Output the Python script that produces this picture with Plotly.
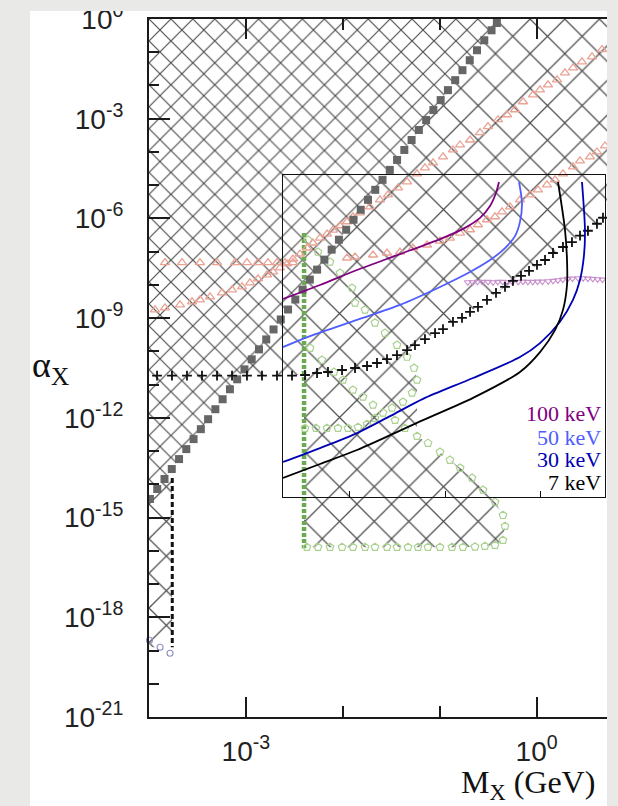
import numpy as np
import plotly.graph_objects as go

# ---------------- axis extents (log10 units) ----------------
X_RANGE = [-4.0, 0.7265]          # log10(M_X / GeV)
Y_RANGE = [-21.0, 0.0]            # log10(alpha_X)
INSET_X_RANGE = [-2.6875, 0.6667]
INSET_Y_RANGE = [-14.384, -4.689]

y_major_exp = [0, -3, -6, -9, -12, -15, -18, -21]
y_minor_exp = [-1, -2, -4, -5, -7, -8, -10, -11, -13, -14, -16, -17, -19, -20]
x_major_exp = [-3, 0]
x_minor_exp = [-2, -1]
inset_x_ticks = [-2, -1, 0]

# ---------------- constraint curves (log10 M, log10 alpha) ----------------
# filled squares
sq_logm = [-3.99, -3.915, -3.84, -3.765, -3.69, -3.615, -3.54, -3.465, -3.39, -3.315,
           -3.24, -3.165, -3.09, -3.015, -2.94, -2.865, -2.79, -2.715, -2.64, -2.565,
           -2.49, -2.415, -2.34, -2.265, -2.19, -2.115, -2.04, -1.965, -1.89, -1.815,
           -1.74, -1.665, -1.59, -1.515, -1.44, -1.365, -1.29, -1.215, -1.14, -1.065,
           -0.99, -0.915, -0.84, -0.765, -0.69, -0.615, -0.54, -0.465, -0.41]
sq_loga = [-14.44, -14.14, -13.84, -13.54, -13.24, -12.94, -12.64, -12.34, -12.04, -11.74,
           -11.44, -11.14, -10.84, -10.54, -10.24, -9.94, -9.64, -9.34, -9.04, -8.74,
           -8.44, -8.14, -7.84, -7.54, -7.24, -6.94, -6.64, -6.34, -6.04, -5.74,
           -5.44, -5.14, -4.84, -4.54, -4.24, -3.94, -3.64, -3.34, -3.04, -2.74,
           -2.44, -2.14, -1.84, -1.54, -1.24, -0.94, -0.64, -0.34, -0.12]

# black crosses
plus_logm = [-3.917, -3.763, -3.608, -3.453, -3.298, -3.143, -2.989, -2.834, -2.679, -2.524,
             -2.390, -2.266, -2.153, -2.008, -1.874, -1.750, -1.647, -1.544, -1.441, -1.337,
             -1.255, -1.152, -1.048, -0.966, -0.863, -0.770, -0.687, -0.605, -0.512, -0.419,
             -0.326, -0.244, -0.161, -0.078, 0.004, 0.087, 0.169, 0.272, 0.365, 0.448,
             0.530, 0.623, 0.685]
plus_loga = [-10.73, -10.73, -10.73, -10.73, -10.73, -10.73, -10.73, -10.73, -10.73, -10.73,
             -10.71, -10.65, -10.62, -10.56, -10.50, -10.44, -10.35, -10.23, -10.11, -9.96,
             -9.81, -9.63, -9.45, -9.33, -9.11, -8.99, -8.81, -8.66, -8.45, -8.24,
             -8.06, -7.88, -7.73, -7.58, -7.40, -7.25, -7.04, -6.86, -6.71, -6.52,
             -6.37, -6.16, -5.98]

# open triangles, steep branch
tri_up_logm = [-3.938, -3.835, -3.680, -3.556, -3.474, -3.370, -3.247, -3.143, -3.040, -2.958,
               -2.875, -2.782, -2.720, -2.648, -2.576, -2.514, -2.442, -2.369, -2.308, -2.235,
               -2.163, -2.101, -2.029, -1.957, -1.895, -1.823, -1.719, -1.616, -1.534, -1.430,
               -1.337, -1.234, -1.152, -1.069, -0.966, -0.863, -0.790, -0.687, -0.584, -0.502,
               -0.398, -0.305, -0.223, -0.140, -0.037, 0.035, 0.118, 0.211, 0.293, 0.376,
               0.468, 0.572, 0.675]
tri_up_loga = [-8.75, -8.69, -8.60, -8.51, -8.45, -8.36, -8.24, -8.15, -8.06, -7.94,
               -7.82, -7.70, -7.61, -7.49, -7.37, -7.22, -7.07, -6.89, -6.74, -6.59,
               -6.47, -6.35, -6.22, -6.10, -5.95, -5.83, -5.65, -5.44, -5.29, -5.08,
               -4.90, -4.66, -4.48, -4.33, -4.15, -3.94, -3.79, -3.64, -3.42, -3.24,
               -3.03, -2.88, -2.73, -2.49, -2.28, -2.13, -1.98, -1.83, -1.62, -1.47,
               -1.29, -1.14, -0.92]

# open triangles, flat-then-rising branch
tri_lo_logm = [-3.835, -3.659, -3.474, -3.298, -3.112, -2.989, -2.875, -2.772, -2.679, -2.596,
               -2.514, -1.957, -1.874, -1.688, -1.544, -1.410, -1.276, -1.131, -0.997, -0.894,
               -0.790, -0.687, -0.605, -0.512, -0.429, -0.357, -0.274, -0.171, -0.068, 0.014,
               0.107, 0.190, 0.272, 0.376, 0.448, 0.551, 0.623, 0.706]
tri_lo_loga = [-7.33, -7.33, -7.33, -7.33, -7.33, -7.33, -7.33, -7.33, -7.33, -7.33,
               -7.33, -7.19, -7.16, -7.10, -7.04, -7.01, -6.89, -6.80, -6.68, -6.59,
               -6.44, -6.34, -6.19, -6.04, -5.95, -5.80, -5.65, -5.44, -5.29, -5.14,
               -4.99, -4.84, -4.66, -4.45, -4.27, -4.15, -4.00, -3.82]

# small down triangles
tri_dn_logm = [-0.71, -0.66, -0.61, -0.56, -0.50, -0.45, -0.40, -0.35, -0.30, -0.25,
               -0.19, -0.14, -0.09, -0.04, 0.01, 0.06, 0.12, 0.17, 0.22, 0.27,
               0.32, 0.37, 0.43, 0.48, 0.53, 0.58, 0.63, 0.68]
tri_dn_loga = [-7.92, -7.92, -7.91, -7.91, -7.91, -7.92, -7.91, -7.91, -7.92, -7.91,
               -7.91, -7.90, -7.91, -7.91, -7.90, -7.90, -7.89, -7.88, -7.86, -7.84,
               -7.82, -7.81, -7.80, -7.80, -7.81, -7.82, -7.83, -7.84]

# open circles near the lower left
circ_logm = [-3.995, -3.886, -3.783]
circ_loga = [-18.69, -18.90, -19.08]

# vertical dashed limits
dash_black_logm = [-3.76, -3.76]
dash_black_loga = [-13.81, -18.90]
dash_green_logm = [-2.40, -2.40]
dash_green_loga = [-6.44, -15.92]

# green contour (open pentagons)
g_up_logm = [-2.359, -2.256, -2.132, -2.029, -1.905, -1.874, -1.771, -1.668, -1.565, -1.441,
             -1.337, -1.265, -1.234, -1.286, -1.379, -1.492, -1.585, -1.668, -1.750]
g_up_loga = [-6.65, -7.01, -7.31, -7.64, -8.09, -8.54, -8.75, -9.14, -9.45, -9.81,
             -10.17, -10.50, -10.86, -11.25, -11.52, -11.70, -11.85, -12.01, -12.19]
g_row_logm = [-2.390, -2.277, -2.163, -2.050, -1.946, -1.843]
g_row_loga = [-12.31, -12.31, -12.31, -12.31, -12.31, -12.28]
g_in_logm = [-2.338, -2.215, -2.091, -1.998, -1.895, -1.792, -1.688, -1.461, -1.358, -1.234,
             -1.121, -0.997, -0.894, -0.790, -0.667, -0.553, -0.429, -0.347, -0.326, -0.347]
g_in_loga = [-9.90, -10.26, -10.62, -10.86, -11.16, -11.37, -11.61, -12.07, -12.31, -12.55,
             -12.76, -13.03, -13.27, -13.51, -13.81, -14.17, -14.53, -14.93, -15.26, -15.68]
g_bot_logm = [-0.429, -0.533, -0.636, -0.760, -0.873, -0.997, -1.121, -1.224, -1.327, -1.441,
              -1.544, -1.668, -1.771, -1.895, -2.008, -2.132, -2.256, -2.370]
g_bot_loga = [-15.83, -15.86, -15.88, -15.89, -15.89, -15.89, -15.89, -15.89, -15.89, -15.89,
              -15.89, -15.89, -15.89, -15.89, -15.89, -15.89, -15.89, -15.89]

# ---------------- inset: warm-dark-matter curves ----------------
wdm_labels = ["100 keV", "50 keV", "30 keV", "7 keV"]
wdm_colors = ["#800080", "#4f5dff", "#0000b4", "#000000"]
wdm_logm = [
    [-2.6875, -2.302, -1.917, -1.469, -1.052, -0.792, -0.635, -0.531, -0.469, -0.4375],
    [-2.6875, -2.406, -1.917, -1.469, -1.052, -0.740, -0.531, -0.375, -0.271, -0.219, -0.198, -0.229],
    [-2.6875, -2.302, -1.917, -1.573, -1.229, -0.708, -0.219, -0.010, 0.198, 0.333, 0.406, 0.448, 0.458, 0.427],
    [-2.6875, -2.302, -1.917, -1.229, -0.708, -0.219, -0.010, 0.146, 0.229, 0.271, 0.271, 0.250, 0.177],
]
wdm_loga = [
    [-8.42, -8.00, -7.55, -7.07, -6.62, -6.28, -5.98, -5.62, -5.23, -4.90],
    [-9.87, -9.54, -9.05, -8.60, -8.06, -7.61, -7.25, -6.89, -6.53, -6.10, -5.53, -4.90],
    [-13.33, -12.91, -12.46, -11.95, -11.43, -10.80, -10.17, -9.75, -9.11, -8.45, -7.85, -7.10, -6.34, -4.90],
    [-13.81, -13.39, -12.97, -12.07, -11.40, -10.62, -10.02, -9.36, -8.75, -8.00, -7.25, -6.34, -4.90],
]


def p10(a):
    return np.power(10.0, np.asarray(a, dtype=float))


HATCH = "#505050"


def hatch(xs, ys, size, solidity):
    return go.Scatter(
        x=p10(xs), y=p10(ys), mode="lines", fill="toself",
        line=dict(width=0, color="rgba(0,0,0,0)"),
        fillcolor="rgba(0,0,0,0)",
        fillpattern=dict(shape="x", size=size, solidity=solidity, fgopacity=1,
                         fgcolor=HATCH, bgcolor="rgba(0,0,0,0)", fillmode="overlay"),
        hoverinfo="skip", xaxis="x", yaxis="y")


fig = go.Figure()

# --- hatched exclusion regions ---
# above the square-marker line (dense hatch)
d_x = list(sq_logm) + [sq_logm[-1], X_RANGE[0], X_RANGE[0]]
d_y = list(sq_loga) + [Y_RANGE[1], Y_RANGE[1], sq_loga[0]]
fig.add_trace(hatch(d_x, d_y, 15.5, 0.15))

# above the cross line, right of the squares (sparse hatch)
s1_x = plus_logm[6:] + [X_RANGE[1], X_RANGE[1], sq_logm[-1]] + sq_logm[13:][::-1]
s1_y = plus_loga[6:] + [plus_loga[-1], Y_RANGE[1], Y_RANGE[1]] + sq_loga[13:][::-1]
fig.add_trace(hatch(s1_x, s1_y, 24.5, 0.10))

# region enclosed by the green limits
s2_x = (plus_logm[10:20] + g_up_logm[11:13] + g_in_logm[9:] + g_bot_logm
        + [dash_green_logm[1], dash_green_logm[1]])
s2_y = (plus_loga[10:20] + g_up_loga[11:13] + g_in_loga[9:] + g_bot_loga
        + [dash_green_loga[1], plus_loga[10]])
fig.add_trace(hatch(s2_x, s2_y, 24.5, 0.10))

# narrow strip left of the black dashed limit
s3_x = sq_logm[:4] + [dash_black_logm[1], X_RANGE[0], X_RANGE[0]]
s3_y = sq_loga[:4] + [dash_black_loga[1], dash_black_loga[1], sq_loga[0]]
fig.add_trace(hatch(s3_x, s3_y, 24.5, 0.10))

# --- limit lines and marker series ---
fig.add_trace(go.Scatter(x=p10(dash_green_logm), y=p10(dash_green_loga), mode="lines",
                         line=dict(color="#6aaa50", width=4.5, dash="4px,2px"), hoverinfo="skip"))
fig.add_trace(go.Scatter(x=p10(dash_black_logm), y=p10(dash_black_loga), mode="lines",
                         line=dict(color="#111111", width=3, dash="5px,3px"), hoverinfo="skip"))

g_logm = g_up_logm + g_row_logm + g_in_logm + g_bot_logm
g_loga = g_up_loga + g_row_loga + g_in_loga + g_bot_loga
fig.add_trace(go.Scatter(x=p10(g_logm), y=p10(g_loga), mode="markers",
                         marker=dict(symbol="pentagon-open", size=8, color="#a9d190",
                                     line=dict(width=1.2)), hoverinfo="skip"))

fig.add_trace(go.Scatter(x=p10(tri_up_logm), y=p10(tri_up_loga), mode="markers",
                         marker=dict(symbol="triangle-up-open", size=8, color="#eaa293",
                                     line=dict(width=1.3)), hoverinfo="skip"))
fig.add_trace(go.Scatter(x=p10(tri_lo_logm), y=p10(tri_lo_loga), mode="markers",
                         marker=dict(symbol="triangle-up-open", size=8, color="#eaa293",
                                     line=dict(width=1.3)), hoverinfo="skip"))
fig.add_trace(go.Scatter(x=p10(tri_dn_logm), y=p10(tri_dn_loga), mode="markers",
                         marker=dict(symbol="triangle-down-open", size=6, color="#c890cc",
                                     line=dict(width=1.1)), hoverinfo="skip"))
fig.add_trace(go.Scatter(x=p10(sq_logm), y=p10(sq_loga), mode="markers",
                         marker=dict(symbol="square", size=8, color="#666666",
                                     line=dict(width=0)), hoverinfo="skip"))
fig.add_trace(go.Scatter(x=p10(plus_logm), y=p10(plus_loga), mode="markers",
                         marker=dict(symbol="cross-thin", size=7,
                                     line=dict(width=1.8, color="#111111")), hoverinfo="skip"))
fig.add_trace(go.Scatter(x=p10(circ_logm), y=p10(circ_loga), mode="markers", cliponaxis=False,
                         marker=dict(symbol="circle-open", size=6, color="#8a92c4",
                                     line=dict(width=1.1)), hoverinfo="skip"))

# --- inset curves ---
for lm, la, col in zip(wdm_logm, wdm_loga, wdm_colors):
    fig.add_trace(go.Scatter(x=p10(lm), y=p10(la), mode="lines", xaxis="x2", yaxis="y2",
                             line=dict(color=col, width=1.8, shape="spline", smoothing=0.8),
                             hoverinfo="skip"))

# ---------------- layout ----------------
AX = "#1a1a1a"
tick_font = dict(family="Liberation Sans, Arial, sans-serif", size=28, color="#222222")


def pow_label(e):
    return "10<sup>%d</sup>" % e


fig.update_layout(
    width=618, height=806,
    margin=dict(l=149, r=11, t=19, b=89, pad=0),
    paper_bgcolor="#e9e9e7", plot_bgcolor="rgba(0,0,0,0)",
    showlegend=False, template="none",
    xaxis=dict(type="log", range=X_RANGE, automargin=False,
               showline=True, linecolor=AX, linewidth=2, mirror="ticks",
               ticks="inside", ticklen=20, tickwidth=1.5, tickcolor=AX,
               tickmode="array", tickvals=list(p10(x_major_exp)),
               ticktext=[pow_label(e) for e in x_major_exp],
               tickfont=tick_font, ticklabelstandoff=8, ticklabeloverflow="allow",
               showgrid=False, zeroline=False,
               minor=dict(tickmode="array", tickvals=list(p10(x_minor_exp)), ticks="inside",
                          ticklen=11, tickwidth=1.5, tickcolor=AX, showgrid=False)),
    yaxis=dict(type="log", range=Y_RANGE, automargin=False,
               showline=True, linecolor=AX, linewidth=2,
               ticks="inside", ticklen=21, tickwidth=1.5, tickcolor=AX,
               tickmode="array", tickvals=list(p10(y_major_exp)),
               ticktext=[pow_label(e) for e in y_major_exp],
               tickfont=tick_font, ticklabelstandoff=18, ticklabeloverflow="allow",
               showgrid=False, zeroline=False,
               minor=dict(tickmode="array", tickvals=list(p10(y_minor_exp)), ticks="inside",
                          ticklen=10, tickwidth=1.5, tickcolor=AX, showgrid=False)),
    xaxis2=dict(type="log", range=INSET_X_RANGE, domain=[0.29258, 0.99563], anchor="y2",
                automargin=False, showline=True, mirror=True, linecolor="#111111", linewidth=1.3,
                ticks="inside", ticklen=6, tickwidth=1.3, tickcolor="#111111",
                tickmode="array", tickvals=list(p10(inset_x_ticks)), showticklabels=False,
                showgrid=False, zeroline=False),
    yaxis2=dict(type="log", range=INSET_Y_RANGE, domain=[0.31519, 0.77650], anchor="x2",
                automargin=False, showline=True, mirror=True, linecolor="#111111", linewidth=1.3,
                ticks="", showticklabels=False, showgrid=False, zeroline=False),
    shapes=[
        # white page behind the chart
        dict(type="rect", xref="paper", yref="paper", x0=-0.2598, x1=1.0, y0=-0.1275, y1=1.0115,
             fillcolor="white", line=dict(width=0), layer="below"),
        # page margin above the chart
        dict(type="rect", xref="paper", yref="paper", x0=-0.33, x1=1.03, y0=1.0115, y1=1.03,
             fillcolor="#e9e9e7", line=dict(width=0), layer="above"),
    ],
)

serif = "Liberation Serif, Times New Roman, serif"
label_y = [0.4355, 0.4011, 0.3696, 0.3366]
for txt, col, yy in zip(wdm_labels, wdm_colors, label_y):
    fig.add_annotation(text=txt, x=0.9913, y=yy, xref="paper", yref="paper",
                       xanchor="right", yanchor="middle", showarrow=False,
                       font=dict(family=serif, size=22, color=col))

fig.add_annotation(text="α<sub>X</sub>", x=-0.2598, y=0.5014, xref="paper", yref="paper",
                   xanchor="left", yanchor="middle", showarrow=False,
                   font=dict(family=serif, size=36, color="#111111"))
fig.add_annotation(text="M<sub>X</sub> (GeV)", x=0.9782, y=-0.097, xref="paper", yref="paper",
                   xanchor="right", yanchor="middle", showarrow=False,
                   font=dict(family=serif, size=32, color="#111111"))

fig.write_html("out.html")
